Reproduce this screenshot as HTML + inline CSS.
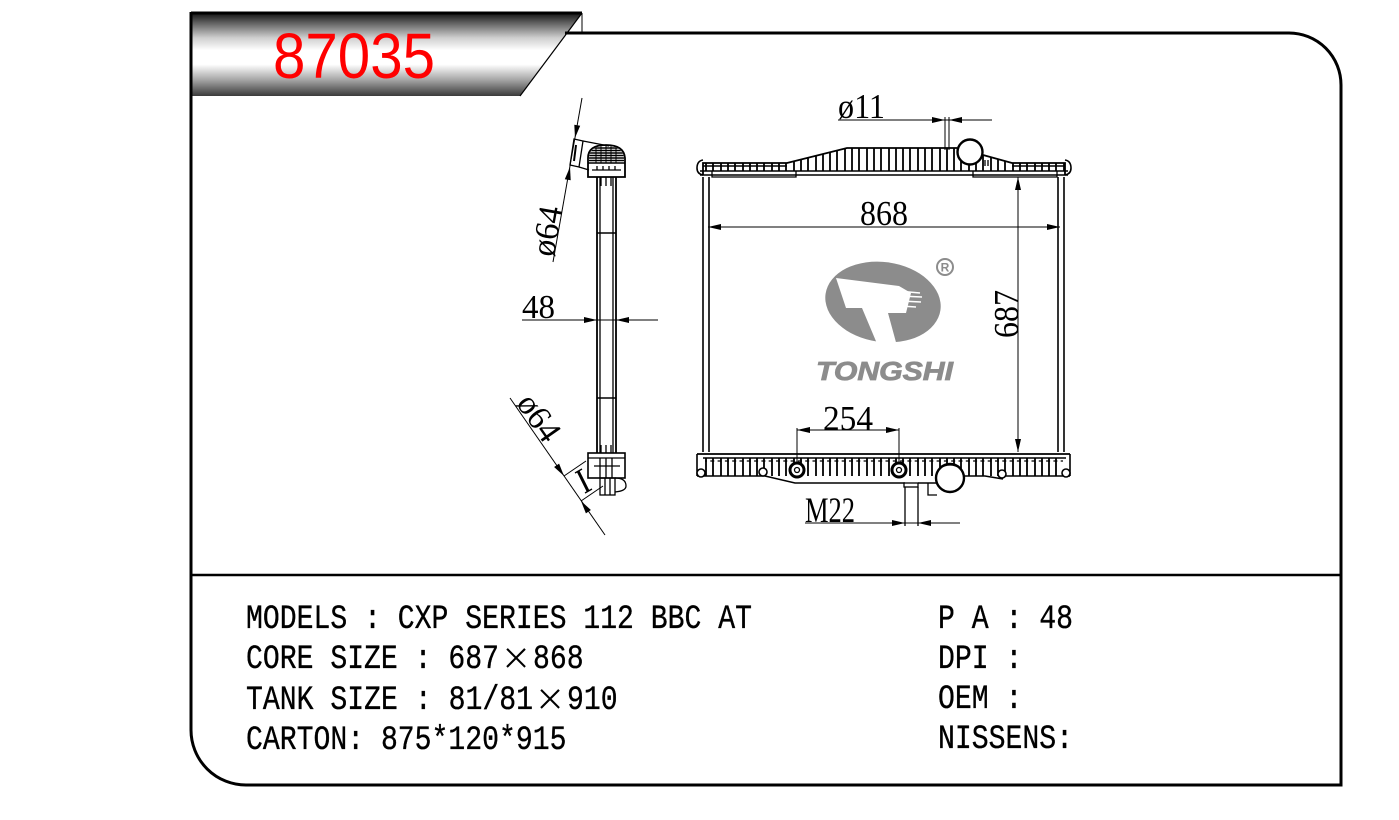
<!DOCTYPE html>
<html><head><meta charset="utf-8"><title>87035</title>
<style>html,body{margin:0;padding:0;background:#fff;}svg{display:block;}</style>
</head><body>
<svg width="1399" height="820" viewBox="0 0 1399 820" xmlns="http://www.w3.org/2000/svg">
<defs>
<linearGradient id="hg" x1="0" y1="0" x2="0" y2="1">
<stop offset="0" stop-color="#111"/>
<stop offset="0.1" stop-color="#555"/>
<stop offset="0.3" stop-color="#cfcfcf"/>
<stop offset="0.45" stop-color="#fff"/>
<stop offset="0.62" stop-color="#fff"/>
<stop offset="0.8" stop-color="#a8a8a8"/>
<stop offset="1" stop-color="#3a3a3a"/>
</linearGradient>
<clipPath id="topclip"><polygon points="703,171 703,163 787,163 847,148 957,148 983,155 1012,163 1065,163 1065,171"/></clipPath>
<clipPath id="botclip"><rect x="705" y="458" width="358" height="18"/></clipPath>
<clipPath id="sideclip"><path d="M589,163 V158 Q589,146 606,146 Q623,146 624,158 V163 Z"/></clipPath>
</defs>

<!-- header band -->
<polygon points="192,13 582,13 520,96 192,96" fill="url(#hg)"/>
<line x1="582" y1="13" x2="520" y2="96" stroke="#000" stroke-width="1.2"/>
<line x1="191" y1="13" x2="582" y2="13" stroke="#000" stroke-width="3"/>
<line x1="582" y1="13" x2="582" y2="33" stroke="#000" stroke-width="1"/>
<text x="273" y="78" font-family="Liberation Sans, Arial, sans-serif" font-size="64" fill="#ff0000" textLength="162" lengthAdjust="spacingAndGlyphs">87035</text>

<!-- frame -->
<path d="M565,33 H1289 A52,52 0 0 1 1341,85 V785 H246 A55,55 0 0 1 191,730 V12" fill="none" stroke="#000" stroke-width="3"/>
<line x1="191" y1="575" x2="1341" y2="575" stroke="#000" stroke-width="2.5"/>

<!-- ============ SIDE VIEW ============ -->
<g stroke="#000" fill="none" stroke-width="1.3">
  <line x1="597" y1="177" x2="597" y2="453" stroke-width="1.8"/>
  <line x1="600" y1="177" x2="600" y2="453"/>
  <line x1="613" y1="177" x2="613" y2="453"/>
  <line x1="616" y1="177" x2="616" y2="453" stroke-width="1.8"/>
  <line x1="597" y1="233" x2="616" y2="233" stroke-width="1.6"/>
  <line x1="597" y1="398" x2="616" y2="398" stroke-width="1.6"/>
  <path d="M588,177 V158 Q588,145 606,145 Q624,145 625,158 V177 Z" stroke-width="1.8"/>
  <g clip-path="url(#sideclip)" stroke-width="1.6">
    <path d="M586 148H627M586 150.5H627M586 153H627M586 155.5H627M586 158H627M586 160.5H627"/>
    <path d="M596 146V163M601 146V163M606 146V163M611 146V163M616 146V163" stroke-width="1"/>
  </g>
  <line x1="588" y1="163" x2="625" y2="163" stroke-width="1.6"/>
  <line x1="592" y1="170" x2="621" y2="170"/>
  <path d="M597 166V170M603 166V170M609 166V170M615 166V170"/>
  <path d="M601 177V186M606 177V186M611 177V186"/>
  <polygon points="574,139 583,141 579,167 570,165"/>
  <line x1="576" y1="145" x2="574" y2="161" stroke-width="2"/>
  <line x1="583" y1="141" x2="609" y2="146"/>
  <line x1="579" y1="167" x2="589" y2="170"/>
  <path d="M601 445V453M606 445V453M611 445V453"/>
  <rect x="588" y="453" width="37" height="25" stroke-width="1.6"/>
  <line x1="588" y1="458" x2="625" y2="458"/>
  <path d="M600 458V478M606 458V478M612 458V478M594 466H620"/>
  <rect x="600" y="478" width="15" height="17"/>
  <path d="M605 478V495M610 478V495"/>
  <path d="M615,478 Q626,478 626,486 Q626,491 615,492"/>
  <line x1="578" y1="471" x2="588" y2="491" stroke-width="3"/>
  <line x1="575" y1="473" x2="582" y2="469"/>
  <line x1="585" y1="493" x2="592" y2="489"/>
</g>

<!-- side dims -->
<g stroke="#000" stroke-width="1" fill="none">
  <line x1="582" y1="98" x2="553" y2="262"/>
  <line x1="510" y1="398" x2="605" y2="535"/>
  <line x1="564" y1="476" x2="586" y2="461"/>
  <line x1="581" y1="501" x2="603" y2="486"/>
  <line x1="522" y1="320" x2="658" y2="320"/>
</g>
<g fill="#000">
  <polygon points="575,138 580.2,125.7 574.3,124.7"/>
  <polygon points="570,167 570.7,180.3 564.8,179.3"/>
  <polygon points="564,476 554.1,467 559.1,463.6"/>
  <polygon points="581,501 585.9,513.4 590.9,510"/>
  <polygon points="597,320 584,317 584,323"/>
  <polygon points="616,320 629,317 629,323"/>
</g>
<g font-family="Liberation Serif, 'Times New Roman', serif" font-size="34" fill="#000">
  <text x="522" y="318" textLength="33" lengthAdjust="spacingAndGlyphs">48</text>
  <text transform="translate(558,233) rotate(-80)" text-anchor="middle" textLength="50" lengthAdjust="spacingAndGlyphs">ø64</text>
  <text transform="translate(530,424) rotate(55)" text-anchor="middle" textLength="50" lengthAdjust="spacingAndGlyphs">ø64</text>
</g>

<!-- ============ FRONT VIEW ============ -->
<g stroke="#000" fill="none" stroke-width="1.3">
  <path d="M703,175 V163 H787 L847,148 H957 M983,155 L1012,163 H1065 V175" stroke-width="1.8"/>
  <path d="M703,175 Q697,174 697,168 Q697,161 703,160" stroke-width="1.6"/>
  <path d="M1065,175 Q1071,174 1071,168 Q1071,161 1065,160" stroke-width="1.6"/>
  <g clip-path="url(#topclip)" stroke-width="1.8">
    <path d="M706 140V171M713 140V171M721 140V171M728 140V171M735 140V171M743 140V171M750 140V171M757 140V171M764 140V171M772 140V171M779 140V171M786 140V171M794 140V171M801 140V171M808 140V171M816 140V171M823 140V171M830 140V171M837 140V171M845 140V171M852 140V171M859 140V171M867 140V171M874 140V171M881 140V171M889 140V171M896 140V171M903 140V171M910 140V171M918 140V171M925 140V171M932 140V171M940 140V171M947 140V171M954 140V171M961 140V171M969 140V171M976 140V171M983 140V171M991 140V171M998 140V171M1005 140V171M1013 140V171M1020 140V171M1027 140V171M1035 140V171M1042 140V171M1049 140V171M1056 140V171M1064 140V171"/>
  </g>
  <line x1="703" y1="166" x2="787" y2="166" stroke-width="1.6"/>
  <line x1="1012" y1="166" x2="1065" y2="166" stroke-width="1.6"/>
  <line x1="700" y1="171" x2="1068" y2="171" stroke-width="1.5"/>
  <line x1="700" y1="175" x2="1068" y2="175" stroke-width="1.5"/>
  <path d="M712 171V177H796V171M973 171V177H1057V171"/>
  <circle cx="970" cy="152" r="12.5" fill="#fff" stroke-width="2.4"/>
  <path d="M985 160V166M988 160V166"/>
  <line x1="703" y1="177" x2="703" y2="452" stroke-width="1.6"/>
  <line x1="709" y1="177" x2="709" y2="452" stroke-width="1.6"/>
  <line x1="1058" y1="177" x2="1058" y2="452" stroke-width="1.6"/>
  <line x1="1064" y1="177" x2="1064" y2="452" stroke-width="1.6"/>
  <line x1="697" y1="454" x2="1070" y2="454" stroke-width="1.8"/>
  <line x1="703" y1="458" x2="1066" y2="458" stroke-width="1.4"/>
  <g clip-path="url(#botclip)" stroke-width="1.8">
    <path d="M706 455V480M713 455V480M721 455V480M728 455V480M735 455V480M743 455V480M750 455V480M757 455V480M764 455V480M772 455V480M779 455V480M786 455V480M794 455V480M801 455V480M808 455V480M816 455V480M823 455V480M830 455V480M837 455V480M845 455V480M852 455V480M859 455V480M867 455V480M874 455V480M881 455V480M889 455V480M896 455V480M903 455V480M910 455V480M918 455V480M925 455V480M932 455V480M940 455V480M947 455V480M954 455V480M961 455V480M969 455V480M976 455V480M983 455V480M991 455V480M998 455V480M1005 455V480M1013 455V480M1020 455V480M1027 455V480M1035 455V480M1042 455V480M1049 455V480M1056 455V480M1064 455V480"/>
    <path d="M703 461H1066" stroke-width="1.2" stroke-dasharray="4 3.3"/>
  </g>
  <path d="M697,454 V476 M1070,454 V476" stroke-width="1.6"/>
  <path d="M697,476 H765 L795,483 H905 M918,483 H936 M965,476 H985 L1003,479 M1003,476 H1070" stroke-width="1.6"/>
  <path d="M928,483 V495 H937"/>
  <circle cx="701" cy="473" r="4" fill="#fff" stroke-width="1.6"/>
  <circle cx="763" cy="472" r="4" fill="#fff" stroke-width="1.6"/>
  <circle cx="1002" cy="474" r="4" fill="#fff" stroke-width="1.6"/>
  <circle cx="1066" cy="473" r="4" fill="#fff" stroke-width="1.6"/>
  <circle cx="797" cy="470" r="7" fill="#fff" stroke-width="3"/>
  <circle cx="797" cy="470" r="2.5"/>
  <circle cx="899" cy="470" r="7" fill="#fff" stroke-width="3"/>
  <circle cx="899" cy="470" r="2.5"/>
  <circle cx="950" cy="478" r="14" fill="#fff" stroke-width="2.4"/>
  <path d="M940,468 Q950,462 960,468"/>
  <rect x="904" y="483" width="14" height="4" fill="#fff"/>
  <line x1="905" y1="487" x2="905" y2="526"/>
  <line x1="918" y1="487" x2="918" y2="526"/>
</g>

<!-- front dims -->
<g stroke="#000" stroke-width="1" fill="none">
  <line x1="708" y1="227" x2="1060" y2="227"/>
  <line x1="1018" y1="177" x2="1018" y2="452"/>
  <line x1="797" y1="430" x2="899" y2="430"/>
  <line x1="797" y1="428" x2="797" y2="462"/>
  <line x1="899" y1="428" x2="899" y2="462"/>
  <line x1="838" y1="120" x2="992" y2="120"/>
  <line x1="945" y1="117" x2="945" y2="150"/>
  <line x1="949" y1="117" x2="949" y2="150"/>
  <line x1="805" y1="523" x2="960" y2="523"/>
</g>
<g fill="#000">
  <polygon points="708,227 721,224 721,230"/>
  <polygon points="1060,227 1047,224 1047,230"/>
  <polygon points="1018,177 1015,190 1021,190"/>
  <polygon points="1018,452 1015,439 1021,439"/>
  <polygon points="797,430 810,427 810,433"/>
  <polygon points="899,430 886,427 886,433"/>
  <polygon points="945,120 932,117 932,123"/>
  <polygon points="949,120 962,117 962,123"/>
  <polygon points="905,523 892,520 892,526"/>
  <polygon points="918,523 931,520 931,526"/>
</g>
<g font-family="Liberation Serif, 'Times New Roman', serif" font-size="35" fill="#000">
  <text x="860" y="225" textLength="48" lengthAdjust="spacingAndGlyphs">868</text>
  <text transform="translate(1018,338) rotate(-90)" textLength="48" lengthAdjust="spacingAndGlyphs">687</text>
  <text x="823" y="430" textLength="50" lengthAdjust="spacingAndGlyphs">254</text>
  <text x="805" y="522" font-size="36" textLength="50" lengthAdjust="spacingAndGlyphs">M22</text>
  <text x="838" y="118" textLength="47" lengthAdjust="spacingAndGlyphs">ø11</text>
</g>

<!-- logo -->
<g>
  <ellipse cx="883" cy="302" rx="58" ry="40" transform="rotate(8 883 302)" fill="#8c8c8c"/>
  <polygon points="836,278 899,286 911,293 906,313 888,313 897,346 878,346 862,308 846,308" fill="#fff"/>
  <g stroke="#fff" stroke-width="1.6">
    <line x1="898" y1="291" x2="920" y2="293"/>
    <line x1="900" y1="296" x2="922" y2="297"/>
    <line x1="901" y1="301" x2="921" y2="302"/>
    <line x1="901" y1="306" x2="916" y2="307"/>
  </g>
  <circle cx="945" cy="267" r="8" fill="none" stroke="#8c8c8c" stroke-width="2"/>
  <text x="945" y="271.5" text-anchor="middle" font-family="Liberation Sans, Arial, sans-serif" font-weight="bold" font-size="12" fill="#8c8c8c">R</text>
  <text x="816" y="380" font-family="Liberation Sans, Arial, sans-serif" font-weight="bold" font-style="italic" font-size="26" fill="#8c8c8c" stroke="#8c8c8c" stroke-width="0.8" textLength="137" lengthAdjust="spacingAndGlyphs">TONGSHI</text>
</g>

<!-- info text -->
<g font-family="Liberation Mono, 'DejaVu Sans Mono', monospace" font-size="34" fill="#000" stroke="#000" stroke-width="0.35">
  <text x="246" y="628" textLength="506" lengthAdjust="spacingAndGlyphs">MODELS : CXP SERIES 112 BBC AT</text>
  <text x="246" y="668" textLength="253" lengthAdjust="spacingAndGlyphs">CORE SIZE : 687</text>
  <text x="533" y="668" textLength="50.6" lengthAdjust="spacingAndGlyphs">868</text>
  <text x="246" y="709" textLength="287" lengthAdjust="spacingAndGlyphs">TANK SIZE : 81/81</text>
  <text x="567" y="709" textLength="50.6" lengthAdjust="spacingAndGlyphs">910</text>
  <text x="246" y="749" textLength="320.5" lengthAdjust="spacingAndGlyphs">CARTON: 875*120*915</text>
  <text x="938" y="628" textLength="135" lengthAdjust="spacingAndGlyphs">P A : 48</text>
  <text x="938" y="668" textLength="84.4" lengthAdjust="spacingAndGlyphs">DPI :</text>
  <text x="938" y="708" textLength="84.4" lengthAdjust="spacingAndGlyphs">OEM :</text>
  <text x="938" y="748" textLength="135" lengthAdjust="spacingAndGlyphs">NISSENS:</text>
</g>
<g font-family="Liberation Sans, Arial, sans-serif" font-size="48" fill="#000" stroke="#fff" stroke-width="1.3" text-anchor="middle">
  <text x="516" y="674">×</text>
  <text x="550" y="715">×</text>
</g>
</svg>
</body></html>
